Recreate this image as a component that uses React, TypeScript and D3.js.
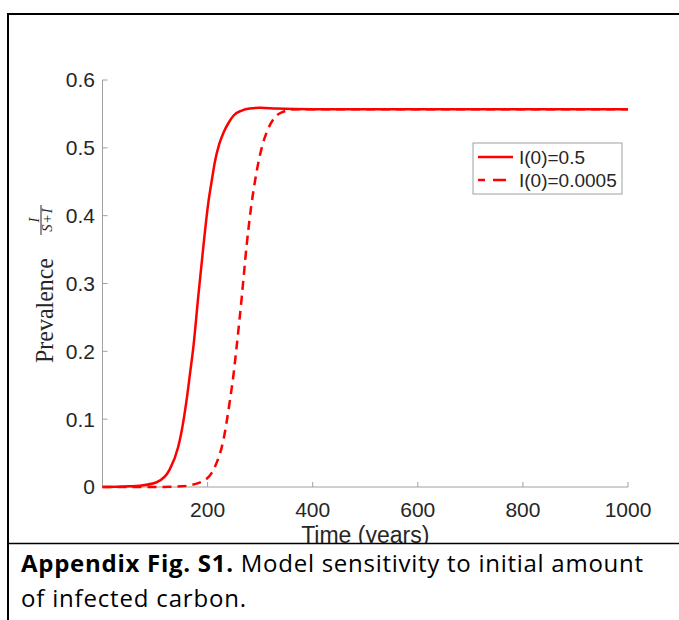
import React from "react";
import * as d3 from "d3";

// ---------- data ----------
const timeSolid = [0, 50, 71, 103, 128, 144, 150, 160, 167, 173, 182, 192, 201, 208, 214, 222, 230, 240, 250, 265, 280, 300, 330, 400, 1000];
const prevSolid = [0, 0.001, 0.002, 0.007, 0.026, 0.059, 0.08, 0.128, 0.17, 0.207, 0.279, 0.355, 0.417, 0.452, 0.48, 0.505, 0.522, 0.537, 0.548, 0.555, 0.558, 0.559, 0.558, 0.557, 0.557];

const timeDashed = [0, 100, 150, 192, 214, 230, 242, 250, 255, 265, 274, 283, 290, 296, 304, 312, 325, 340, 370, 400, 1000];
const prevDashed = [0, 0, 0.001, 0.009, 0.03, 0.069, 0.125, 0.17, 0.205, 0.28, 0.354, 0.414, 0.45, 0.476, 0.503, 0.522, 0.542, 0.552, 0.557, 0.557, 0.557];

const xTicks = [200, 400, 600, 800, 1000];
const yTicks = [0, 0.1, 0.2, 0.3, 0.4, 0.5, 0.6];
const yTickLabels = ["0", "0.1", "0.2", "0.3", "0.4", "0.5", "0.6"];
const legendLabels = ["I(0)=0.5", "I(0)=0.0005"];
const xLabel = "Time (years)";
const captionBold = "Appendix Fig. S1.";
const captionRest = " Model sensitivity to initial amount";
const captionLine2 = "of infected carbon.";

export default function App() {
  const W = 679;
  const H = 620;
  const x = d3.scaleLinear().domain([0, 1000]).range([102.5, 628]);
  const y = d3.scaleLinear().domain([0, 0.6]).range([487, 80]);

  const mk = (ts: number[], vs: number[]) =>
    d3
      .line<[number, number]>()
      .x((d) => x(d[0]))
      .y((d) => y(d[1]))
      .curve(d3.curveMonotoneX)(ts.map((t, i) => [t, vs[i]] as [number, number])) || "";

  const solidPath = mk(timeSolid, prevSolid);
  const dashedPath = mk(timeDashed, prevDashed);

  const axisColor = "#a0a0a0";
  const textColor = "#262626";
  const tickFont = "'Liberation Sans', Arial, Helvetica, sans-serif";
  const serif = "'Liberation Serif', 'Times New Roman', serif";
  const red = "#ff0000";
  const dash = "9,6";

  const x0 = x.range()[0];
  const x1 = x.range()[1];
  const y0 = y.range()[0];
  const yTop = y.range()[1];

  const lgX = 473, lgY = 143, lgW = 149, lgH = 51;
  const rowY = [157, 180];

  return (
    <svg
      width={W}
      height={H}
      style={{ position: "absolute", left: 0, top: 0, background: "#fff" }}
    >
      <rect x={0} y={0} width={W} height={H} fill="#fff" />

      {/* axes */}
      <line x1={x0} x2={x0} y1={yTop} y2={y0} stroke={axisColor} strokeWidth={1} />
      <line x1={x0} x2={x1} y1={y0} y2={y0} stroke={axisColor} strokeWidth={1} />
      {yTicks.map((t, i) => (
        <g key={"yt" + i}>
          <line x1={x0} x2={x0 + 5} y1={y(t)} y2={y(t)} stroke={axisColor} strokeWidth={1} />
          <text x={95} y={y(t)} dy="0.35em" textAnchor="end" fontFamily={tickFont} fontSize={21} fill={textColor}>
            {yTickLabels[i]}
          </text>
        </g>
      ))}
      {xTicks.map((t, i) => (
        <g key={"xt" + i}>
          <line x1={x(t)} x2={x(t)} y1={y0} y2={y0 - 5} stroke={axisColor} strokeWidth={1} />
          <text x={x(t)} y={517} textAnchor="middle" fontFamily={tickFont} fontSize={21} fill={textColor}>
            {t}
          </text>
        </g>
      ))}

      {/* curves */}
      <path d={dashedPath} fill="none" stroke={red} strokeWidth={2.5} strokeDasharray={dash} />
      <path d={solidPath} fill="none" stroke={red} strokeWidth={2.5} />

      {/* legend */}
      <rect x={lgX} y={lgY} width={lgW} height={lgH} fill="#fff" stroke={axisColor} strokeWidth={1} />
      <line x1={478} x2={513} y1={rowY[0]} y2={rowY[0]} stroke={red} strokeWidth={2.5} />
      <line x1={478} x2={513} y1={rowY[1]} y2={rowY[1]} stroke={red} strokeWidth={2.5} strokeDasharray="7,8,13,20" />
      {legendLabels.map((l, i) => (
        <text key={"lg" + i} x={519} y={rowY[i]} dy="0.35em" fontFamily={tickFont} fontSize={19} fill={textColor}>
          {l}
        </text>
      ))}

      {/* y label */}
      <g transform="translate(53,363) rotate(-90)">
        <text x={0} y={0} fontFamily={serif} fontSize={25} fill={textColor} textLength={105} lengthAdjust="spacingAndGlyphs">
          Prevalence
        </text>
        <text x={143} y={-14} textAnchor="middle" fontFamily={serif} fontStyle="italic" fontSize={14.5} fill={textColor}>
          I
        </text>
        <line x1={128} x2={158} y1={-12} y2={-12} stroke={textColor} strokeWidth={1} />
        <text x={143} y={-1} textAnchor="middle" fontFamily={serif} fontSize={14.5} fill={textColor}>
          <tspan fontStyle="italic">S</tspan>
          <tspan dx={1.5}>+</tspan>
          <tspan dx={1.5} fontStyle="italic">I</tspan>
        </text>
      </g>

      {/* x label */}
      <text x={(x0 + x1) / 2} y={543} textAnchor="middle" fontFamily={tickFont} fontSize={23} fill={textColor}>
        {xLabel}
      </text>

      {/* caption cell */}
      <rect x={0} y={544} width={W} height={H - 544} fill="#fff" />
      <line x1={7} x2={W} y1={543.5} y2={543.5} stroke="#000" strokeWidth={1.5} />
      <line x1={7} x2={W} y1={14} y2={14} stroke="#000" strokeWidth={2} />
      <line x1={8} x2={8} y1={13} y2={H} stroke="#000" strokeWidth={2} />

      <text
        x={21}
        y={572}
        fontFamily="'Open Sans', Lato, sans-serif"
        fontSize={24}
        fill="#000"
        textLength={622}
        lengthAdjust="spacing"
      >
        <tspan fontWeight="bold">{captionBold}</tspan>
        <tspan>{captionRest}</tspan>
      </text>
      <text
        x={21}
        y={607}
        fontFamily="'Open Sans', Lato, sans-serif"
        fontSize={24}
        fill="#000"
        textLength={225}
        lengthAdjust="spacing"
      >
        {captionLine2}
      </text>
    </svg>
  );
}
